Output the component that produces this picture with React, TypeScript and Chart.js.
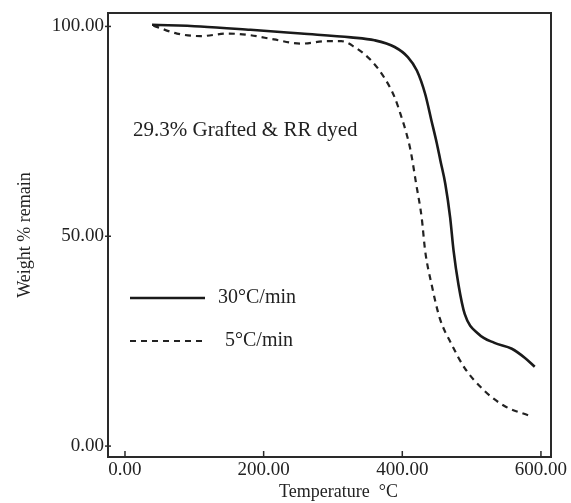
import React, { useEffect, useRef } from "react";
import { Chart, registerables } from "chart.js";

Chart.register(...registerables);

// 30°C/min (solid)
const tempFast = [39, 109, 181, 254, 326, 360, 389, 408, 421, 433, 442, 450, 455, 462, 469, 474, 481, 490, 510, 533, 558, 577, 591];
const weightFast = [100.4, 100.0, 99.2, 98.3, 97.4, 96.7, 95.1, 92.7, 89.5, 83.9, 77.6, 72.0, 68.0, 62.5, 54.5, 46.5, 38.5, 31.5, 26.7, 24.6, 23.2, 21.0, 18.9];

// 5°C/min (dashed)
const tempSlow = [41, 75, 109, 148, 181, 215, 254, 292, 312, 331, 355, 374, 389, 399, 406, 412, 420, 428, 433, 442, 454, 471, 490, 519, 548, 584];
const weightSlow = [100.2, 98.3, 97.7, 98.3, 97.9, 96.9, 95.9, 96.5, 96.5, 95.1, 91.9, 87.8, 83.1, 78.3, 74.5, 70.4, 62.5, 54.4, 46.5, 38.7, 30.5, 24.3, 18.6, 13.1, 9.5, 7.2];

const seriesLabels = ["30°C/min", "5°C/min"];
const xTicks = [0, 200, 400, 600];
const yTicks = [0, 50, 100];
const annotationText = "29.3% Grafted & RR dyed";
const xTitle = "Temperature  °C";
const yTitle = "Weight % remain";

const FONT = '"Liberation Serif", "Times New Roman", serif';
const INK = "#222222";

const decor = {
  id: "decor",
  afterDraw(chart: any) {
    const { ctx, chartArea: a, scales } = chart;
    ctx.save();
    const line = (x1: number, y1: number, x2: number, y2: number) => {
      ctx.beginPath();
      ctx.moveTo(x1, y1);
      ctx.lineTo(x2, y2);
      ctx.stroke();
    };
    // frame
    ctx.strokeStyle = "#2a2a2a";
    ctx.lineWidth = 2;
    ctx.setLineDash([]);
    ctx.strokeRect(a.left, a.top, a.right - a.left, a.bottom - a.top);
    // tick marks
    ctx.lineWidth = 1.5;
    xTicks.forEach((v) => {
      const px = scales.x.getPixelForValue(v);
      line(px, a.bottom, px, a.bottom - 6);
    });
    yTicks.forEach((v) => {
      const py = scales.y.getPixelForValue(v);
      line(a.left - 3, py, a.left + 3, py);
    });
    ctx.fillStyle = INK;
    ctx.textBaseline = "middle";
    // x axis title
    ctx.textAlign = "center";
    ctx.font = `18px ${FONT}`;
    ctx.fillText(xTitle, (a.left + a.right) / 2 + 9, a.bottom + 35);
    // annotation
    ctx.textAlign = "left";
    ctx.font = `21px ${FONT}`;
    ctx.fillText(annotationText, a.left + 25, a.top + 117);
    // legend
    chart.data.datasets.forEach((ds: any, i: number) => {
      const y = a.top + 285 + i * 43;
      ctx.strokeStyle = ds.borderColor;
      ctx.lineWidth = ds.borderWidth;
      ctx.setLineDash(ds.borderDash || []);
      line(a.left + 22, y, a.left + 97, y);
      ctx.setLineDash([]);
      ctx.font = `20px ${FONT}`;
      ctx.fillText(ds.label, a.left + (i === 0 ? 110 : 117), y);
    });
    ctx.restore();
  },
};

export default function App() {
  const ref = useRef<HTMLCanvasElement>(null);

  useEffect(() => {
    if (!ref.current) return;
    const chart = new Chart(ref.current, {
      type: "line",
      data: {
        datasets: [
          {
            label: seriesLabels[0],
            data: tempFast.map((t, i) => ({ x: t, y: weightFast[i] })),
            borderColor: "#1a1a1a",
            borderWidth: 2.6,
            pointRadius: 0,
            cubicInterpolationMode: "monotone",
            fill: false,
          },
          {
            label: seriesLabels[1],
            data: tempSlow.map((t, i) => ({ x: t, y: weightSlow[i] })),
            borderColor: "#222222",
            borderWidth: 2.2,
            borderDash: [6, 5],
            pointRadius: 0,
            cubicInterpolationMode: "monotone",
            fill: false,
          },
        ],
      },
      options: {
        animation: false,
        responsive: false,
        layout: { padding: { top: 13, right: 20, left: 0, bottom: 0 } },
        plugins: { legend: { display: false }, tooltip: { enabled: false } },
        scales: {
          x: {
            type: "linear",
            min: -24.5,
            max: 614.5,
            grid: { display: false, drawTicks: false },
            border: { display: false },
            afterBuildTicks: (s: any) => {
              s.ticks = xTicks.map((v) => ({ value: v }));
            },
            afterFit: (s: any) => {
              s.height = 46;
              s.paddingLeft = 0;
              s.paddingRight = 0;
            },
            ticks: {
              padding: 2,
              maxRotation: 0,
              autoSkip: false,
              color: INK,
              font: { family: FONT, size: 19 },
              callback: (v: any) => Number(v).toFixed(2),
            },
            title: { display: false },
          },
          y: {
            type: "linear",
            min: -2.6,
            max: 103.2,
            grid: { display: false, drawTicks: false },
            border: { display: false },
            afterBuildTicks: (s: any) => {
              s.ticks = yTicks.map((v) => ({ value: v }));
            },
            afterFit: (s: any) => {
              s.width = 108;
              s.paddingTop = 0;
              s.paddingBottom = 0;
            },
            ticks: {
              padding: 4,
              autoSkip: false,
              color: INK,
              font: { family: FONT, size: 19 },
              callback: (v: any) => Number(v).toFixed(2),
            },
            title: {
              display: true,
              text: yTitle,
              color: INK,
              font: { family: FONT, size: 18 },
              padding: { top: 14, bottom: 0 },
            },
          },
        },
      },
      plugins: [decor],
    });
    return () => chart.destroy();
  }, []);

  return (
    <div style={{ position: "absolute", left: 0, top: 0, width: 571, height: 503, background: "#fff" }}>
      <canvas ref={ref} width={571} height={503} style={{ display: "block" }} />
    </div>
  );
}
